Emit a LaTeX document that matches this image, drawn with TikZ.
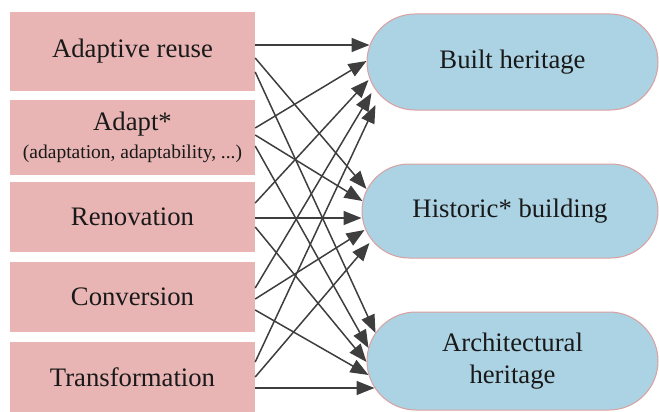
\documentclass[tikz,border=0pt]{standalone}
\usepackage{fontspec}
\setmainfont{Liberation Serif}
\newfontfamily\labelface{Liberation Serif}
\usetikzlibrary{shapes.misc,arrows.meta,calc}
\definecolor{boxpink}{RGB}{232,181,180}
\definecolor{pillblue}{RGB}{172,211,227}
\definecolor{pillrim}{RGB}{218,160,160}
\definecolor{wire}{RGB}{62,62,62}
\definecolor{ink}{RGB}{25,25,25}
\begin{document}
\begin{tikzpicture}[x=1pt,y=-1pt,
  term/.style={rectangle, fill=boxpink, minimum width=245pt, inner sep=0pt,
    text=ink, align=center, font=\labelface\fontsize{26.7}{28}\selectfont},
  target/.style={rounded rectangle, fill=pillblue, draw=pillrim, line width=1pt,
    inner sep=0pt, text=ink, align=center, font=\labelface\fontsize{26.7}{32}\selectfont},
  link/.style={draw=wire, line width=1.5pt, -{Triangle[length=18pt,width=14pt]}}]
\useasboundingbox (0,0) rectangle (659,412);

% search terms
\node[term, minimum height=79pt] (b1) at (132.5,51.5) {Adaptive reuse};
\node[term, minimum height=75pt] (b2) at (132.5,137.5)
  {Adapt*\\{\fontsize{19.5}{28}\selectfont (adaptation, adaptability, ...)}};
\node[term, minimum height=70pt] (b3) at (132.5,217) {Renovation};
\node[term, minimum height=70pt] (b4) at (132.5,297) {Conversion};
\node[term, minimum height=70pt] (b5) at (132.5,377) {Transformation};

% heritage objects
\node[target, minimum width=291pt, minimum height=96pt] (p1) at (512.5,62) {Built heritage};
\node[target, minimum width=296pt, minimum height=94pt] (p2) at (510,211) {Historic* building};
\node[target, minimum width=291pt, minimum height=98pt] (p3) at (512.5,361) {Architectural\\heritage};

% arrow tips along the left ends of the pills
\coordinate (t11) at ($(p1.west)+(3,-17)$);
\coordinate (t21) at ($(p1.west)+(0,-1)$);
\coordinate (t31) at ($(p1.west)+(2,18)$);
\coordinate (t41) at ($(p1.west)+(5,31)$);
\coordinate (t51) at ($(p1.west)+(9,43)$);
\coordinate (t12) at ($(p2.west)+(5,-22)$);
\coordinate (t22) at ($(p2.west)+(1,-10)$);
\coordinate (t32) at ($(p2.west)+(0,7)$);
\coordinate (t42) at ($(p2.west)+(3,19)$);
\coordinate (t52) at ($(p2.west)+(8,32)$);
\coordinate (t13) at ($(p3.west)+(9,-28)$);
\coordinate (t23) at ($(p3.west)+(2,-13)$);
\coordinate (t33) at ($(p3.west)+(0,1)$);
\coordinate (t43) at ($(p3.west)+(2,14)$);
\coordinate (t53) at ($(p3.west)+(8,27)$);

% every term points to every heritage object
\draw[link] ($(b1.east)+(0,-6.5)$) -- (t11);
\draw[link] ($(b1.east)+(0,6.5)$) -- (t12);
\draw[link] ($(b1.east)+(0,20.5)$) -- (t13);
\draw[link] ($(b2.east)+(0,-9.5)$) -- (t21);
\draw[link] ($(b2.east)+(0,-2.5)$) -- (t22);
\draw[link] ($(b2.east)+(0,8.5)$) -- (t23);
\draw[link] ($(b3.east)+(0,-14)$) -- (t31);
\draw[link] ($(b3.east)+(0,1)$) -- (t32);
\draw[link] ($(b3.east)+(0,10)$) -- (t33);
\draw[link] ($(b4.east)+(0,-9)$) -- (t41);
\draw[link] ($(b4.east)+(0,2)$) -- (t42);
\draw[link] ($(b4.east)+(0,13)$) -- (t43);
\draw[link] ($(b5.east)+(0,-15)$) -- (t51);
\draw[link] ($(b5.east)+(0,0)$) -- (t52);
\draw[link] ($(b5.east)+(0,11)$) -- (t53);
\end{tikzpicture}
\end{document}
